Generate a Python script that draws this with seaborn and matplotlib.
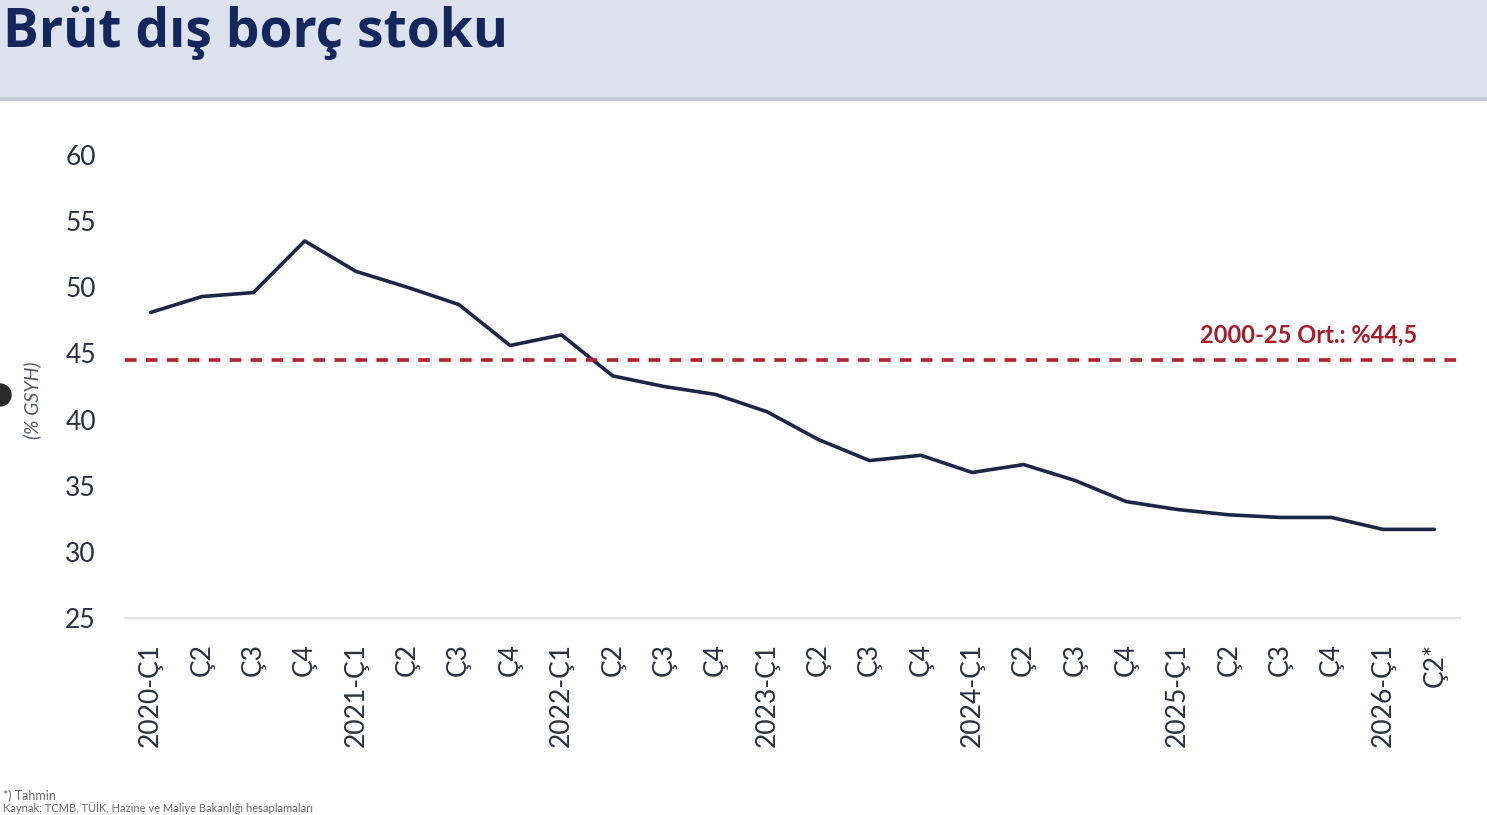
import numpy as np
import pandas as pd
import matplotlib.pyplot as plt
import matplotlib.patches as mpatches
import seaborn as sns

# Veri: brüt dış borç stoku (% GSYH), çeyreklik
quarters = ["2020-Ç1", "Ç2", "Ç3", "Ç4",
            "2021-Ç1", "Ç2", "Ç3", "Ç4",
            "2022-Ç1", "Ç2", "Ç3", "Ç4",
            "2023-Ç1", "Ç2", "Ç3", "Ç4",
            "2024-Ç1", "Ç2", "Ç3", "Ç4",
            "2025-Ç1", "Ç2", "Ç3", "Ç4",
            "2026-Ç1", "Ç2*"]
debt_gdp = [48.1, 49.3, 49.6, 53.5,
            51.2, 50.0, 48.7, 45.6,
            46.4, 43.3, 42.5, 41.9,
            40.6, 38.5, 36.9, 37.3,
            36.0, 36.6, 35.4, 33.8,
            33.2, 32.8, 32.6, 32.6,
            31.7, 31.7]
avg_2000_25 = 44.5
y_ticks = [25, 30, 35, 40, 45, 50, 55, 60]

sns.set_theme(style="white")
plt.rcParams['font.family'] = ['Lato', 'DejaVu Sans']

df = pd.DataFrame({'pos': np.arange(len(quarters)), 'deger': debt_gdp})

fig = plt.figure(figsize=(14.87, 8.15), dpi=100)

# Başlık bandı
fig.patches.append(mpatches.Rectangle((0, 1 - 97 / 815), 1, 97 / 815,
                                      transform=fig.transFigure, color='#dde3ee', zorder=0))
fig.patches.append(mpatches.Rectangle((0, 1 - 100 / 815), 1, 3 / 815,
                                      transform=fig.transFigure, color='#c5cad3', zorder=0))
fig.text(0.002, 1 - 33 / 815, 'Brüt dış borç stoku', fontsize=38.5, fontweight='bold',
         color='#13275c', ha='left', va='center', family=['Open Sans', 'DejaVu Sans'])

ax = fig.add_axes([125 / 1487, 1 - 618 / 815, 1335 / 1487, 463 / 815])
sns.lineplot(data=df, x='pos', y='deger', ax=ax, color='#1d2646', linewidth=2.6)
ax.axhline(avg_2000_25, color='#b3202f', linestyle=(0, (3.2, 2.6)), linewidth=2.6)
ax.text(len(quarters) - 1.33, avg_2000_25 + 1.0, '2000-25 Ort.: %44,5', color='#a51d2d',
        fontsize=17, fontweight='bold', ha='right', va='bottom')

ax.set_xlim(-0.5, len(quarters) - 0.5)
ax.set_ylim(25, 60)
ax.set_yticks(y_ticks)
ax.set_xticks(df['pos'])
ax.set_xticklabels(quarters, rotation=90)
ax.tick_params(axis='y', length=0, pad=21, labelsize=19, labelcolor='#2b3040')
ax.tick_params(axis='x', length=0, pad=18, labelsize=19, labelcolor='#2b3040')
ax.set_xlabel('')
ax.set_ylabel('(% GSYH)', fontsize=14, style='italic', color='#555a66')
ax.yaxis.set_label_coords(-0.063, 0.47)

for side in ['top', 'right', 'left']:
    ax.spines[side].set_visible(False)
ax.spines['bottom'].set_color('#e3e3e3')
ax.spines['bottom'].set_linewidth(1.5)

# Dipnotlar
fig.text(0.002, 1 - 796 / 815, '*) Tahmin', fontsize=9, color='#6b6b6b', ha='left', va='center')
fig.text(0.002, 1 - 808 / 815, 'Kaynak: TCMB, TÜİK, Hazine ve Maliye Bakanlığı hesaplamaları',
         fontsize=8, color='#6b6b6b', ha='left', va='center')

# Sol kenardaki koyu daire
fig.patches.append(mpatches.Ellipse((0, 1 - 395 / 815), 22 / 1487, 22 / 815,
                                    transform=fig.transFigure, color='#2a2a2a', zorder=5))

fig.savefig('out.png', dpi=100)
